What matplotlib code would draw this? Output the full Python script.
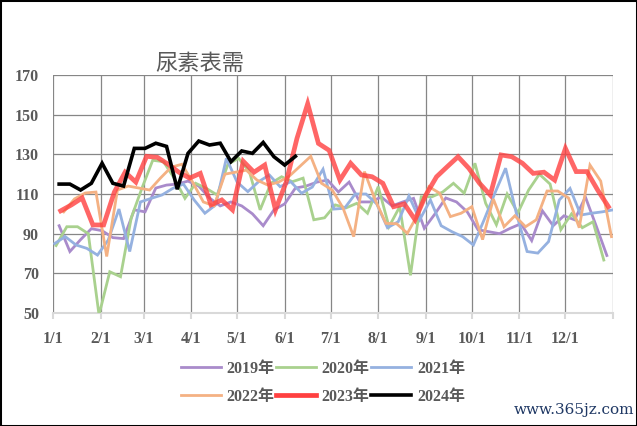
import numpy as np
import matplotlib
matplotlib.use("Agg")
import matplotlib.pyplot as plt
from matplotlib.patches import Rectangle

# ---------------- data ----------------
title = "尿素表需"
month_labels = ["1/1", "2/1", "3/1", "4/1", "5/1", "6/1", "7/1", "8/1", "9/1", "10/1", "11/1", "12/1", ""]
month_days = [0, 31, 59, 90, 120, 151, 181, 212, 243, 273, 304, 334, 365]
y_ticks = [50, 70, 90, 110, 130, 150, 170]

# day of year of first weekly observation, per year
first_day_2019 = 4
first_day_2020 = 2
first_day_2021 = 1
first_day_2022 = 7
first_day_2023 = 5
first_day_2024 = 4

v2019 = [94, 81, 87, 92.5, 91.5, 88, 87.5, 102, 101, 113, 114.5, 115, 116.5, 114, 108, 104,
         106, 104, 100, 94, 102, 105, 113, 114, 116, 117, 111, 116, 106, 106, 108.5, 104,
         106, 107.8, 92.7, 100, 108, 106, 101, 92, 91, 90, 92.7, 95, 86.5, 101.5, 94, 99,
         97, 108.5, 94, 79]
v2020 = [84, 93.5, 93.5, 90, 49, 70.8, 68.3, 98, 113, 127, 126.3, 118, 107.8, 115.4, 112.8, 109.5,
         125, 128, 121.3, 102, 115.4, 118.7, 116.2, 118, 97, 98, 104.5, 103, 105.3, 100.3, 113.7, 93.5,
         103.6, 69, 108.6, 108.6, 111, 115.4, 110.4, 125.5, 105.3, 94.5, 110, 100.5, 112, 120, 115, 92,
         100, 93, 96, 76.7]
v2021 = [85, 88.5, 84.3, 82.6, 79.2, 86.8, 102.4, 81, 106, 107.8, 109.5, 112.8, 115, 107, 100.3, 104.5,
         128, 116, 111.2, 116.2, 119.6, 113.7, 116.2, 110.4, 113.5, 122.5, 102.4, 102.8, 110, 110, 105, 93,
         96, 109, 97, 107, 94, 91, 88.5, 84.3, 97, 110.4, 123, 100.3, 81, 80.2, 86, 107,
         112.8, 99.4, 100.3, 101, 102]
v2022 = [101, 107.5, 110.5, 111, 78.5, 112, 114, 113, 112, 118, 123.5, 125, 116, 106, 104, 120,
         121, 122, 117, 114.5, 116, 119, 124, 129, 115.4, 112, 103, 88.5, 121.3, 107, 95.2, 95,
         90.2, 100, 113.7, 110.4, 98.6, 100.3, 103.6, 87, 107.5, 93.5, 99, 93.5, 97, 111.5, 111.5, 108,
         93, 124.6, 116.5, 88.5]
v2023 = [101.5, 104.5, 108, 94.4, 94.4, 111, 121, 116, 129, 128.5, 125, 121, 118, 120.4, 104.5, 107,
         102, 126.5, 121, 124.6, 102, 116, 138, 155.5, 135.5, 132, 117, 125.5, 119.6, 118.7, 115.4, 103.6,
         105, 97, 109.5, 118.7, 123.8, 128.8, 123, 115.4, 109.5, 129.7, 128.8, 125.5, 120.4, 121, 117, 133,
         121.3, 121.3, 112, 103.6]
v2024 = [115, 115, 112, 115.4, 125.5, 115.4, 114, 133, 133, 135.6, 134, 112.4, 130.5, 136.7, 134.7, 135.6,
         126.3, 131.7, 130.5, 136, 128.8, 124.6, 129]

series = [
    ("2019年", first_day_2019, v2019, "#A98BCB", 2.0, 3),
    ("2020年", first_day_2020, v2020, "#A9D18E", 2.0, 3),
    ("2021年", first_day_2021, v2021, "#95B1E0", 2.0, 3),
    ("2022年", first_day_2022, v2022, "#F4B183", 2.0, 3),
    ("2023年", first_day_2023, v2023, "#FF4040", 3.4, 5),
    ("2024年", first_day_2024, v2024, "#000000", 2.6, 6),
]

# ---------------- figure ----------------
W, H = 637, 426
fig = plt.figure(figsize=(W / 100, H / 100), dpi=100)
ax = fig.add_axes([53 / W, 1 - 313 / H, (613 - 53) / W, (313 - 75) / H])

serif = ["Liberation Serif", "Noto Sans CJK SC", "DejaVu Serif"]
txt_color = "#595959"

handles = {}
for name, d0, vals, col, lw, z in series:
    days = d0 + 7 * np.arange(len(vals))
    alpha = 0.8 if name == "2023年" else 1.0
    ln, = ax.plot(days, vals, color=col, lw=lw, zorder=z, alpha=alpha,
                  solid_joinstyle="miter", label=name)
    handles[name] = ln

ax.set_xlim(0, 365)
ax.set_ylim(50, 170)
ax.set_xticks(month_days)
ax.set_xticklabels(month_labels)
ax.set_yticks(y_ticks)
ax.set_yticklabels([str(t) for t in y_ticks])

ax.set_axisbelow(True)
ax.grid(True, color="#868686", lw=0.9)
for s in ["left", "right", "top"]:
    ax.spines[s].set_visible(False)
ax.spines["bottom"].set_color("#D9D9D9")
ax.spines["bottom"].set_linewidth(1.5)
ax.spines["bottom"].set_zorder(2.5)

ax.tick_params(axis="x", direction="out", length=4, width=1.5, color="#D9D9D9", pad=9)
ax.tick_params(axis="y", length=0, pad=10)
for lab in ax.get_xticklabels() + ax.get_yticklabels():
    lab.set_fontfamily(serif)
    lab.set_fontweight("bold")
    lab.set_fontsize(11.5)
    lab.set_color(txt_color)

fig.text(200 / W, 1 - 63 / H, title, ha="center", va="center",
         fontsize=16, color=txt_color, family=["Noto Sans CJK SC", "DejaVu Sans"])

order = ["2019年", "2022年", "2020年", "2023年", "2021年", "2024年"]
leg = fig.legend([handles[k] for k in order], order, ncol=3, loc="center",
                 bbox_to_anchor=(323 / W, 1 - 383 / H), frameon=False,
                 handlelength=2.5, handletextpad=0.35, columnspacing=0.1,
                 labelspacing=0.75,
                 prop={"family": serif, "weight": "bold", "size": 11.5})
for t in leg.get_texts():
    t.set_color(txt_color)
for lh in leg.get_lines():
    lh.set_alpha(1.0)

fig.text(574 / W, 1 - 410 / H, "www.365jz.com", ha="center", va="center",
         fontsize=11, color="#1F3864", family=["DejaVu Serif"])

fig.patches.append(Rectangle((0, 0), 1, 1, transform=fig.transFigure,
                             fill=False, edgecolor="black", lw=2.2))

fig.savefig("out.png", dpi=100)
